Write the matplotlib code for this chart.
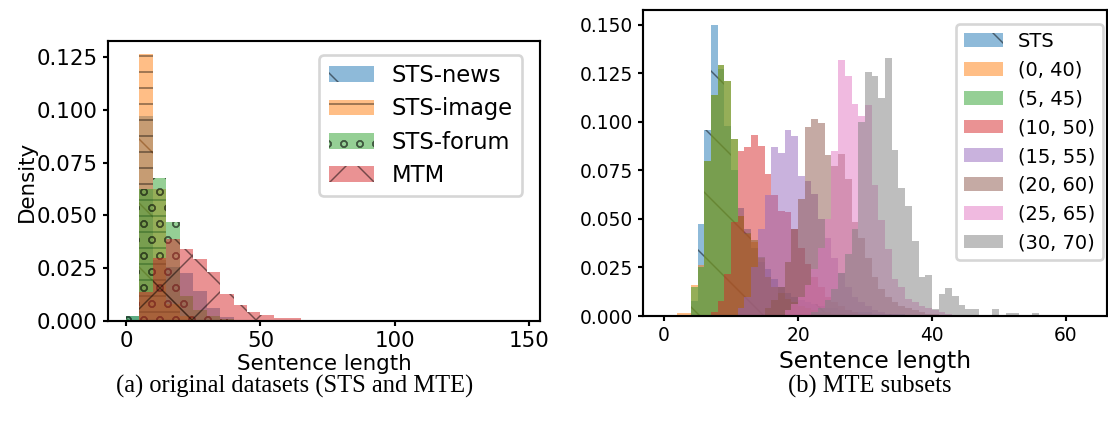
import numpy as np
import matplotlib
matplotlib.use("Agg")
import matplotlib.pyplot as plt

plt.rcParams['hatch.linewidth'] = 0.55
plt.rcParams['hatch.color'] = '#00000080'

# ---------------- data: (a) original datasets, bin width 5 starting at 0 ----------------
left_bin_start = 0
left_bin_width = 5
left_labels = ["STS-news", "STS-image", "STS-forum", "MTM"]
left_hatches = ["\\", "--", "oo", "x"]
sts_news = [0.0025, 0.097, 0.029, 0.0256, 0.0228, 0.0141, 0.0062, 0.002, 0.0007, 0.0003]
sts_image = [0.0, 0.1264, 0.0625, 0.008, 0.0025, 0.0006]
sts_forum = [0.0025, 0.0625, 0.068, 0.0468, 0.012, 0.005, 0.0022, 0.0008, 0.0003]
mtm = [0.0, 0.0138, 0.030, 0.039, 0.034, 0.0296, 0.0231, 0.0127, 0.0074, 0.0041,
       0.0027, 0.0013, 0.0013, 0.0006, 0.0004, 0.0003, 0.0002, 0.0002, 0.0001, 0.0001,
       0.0001, 0.0001, 0.0001, 0.0001, 0.0001, 0.0001, 0.0001, 0.0001, 0.0001]
left_xticks = [0, 50, 100, 150]
left_yticks = [0.000, 0.025, 0.050, 0.075, 0.100, 0.125]

# ---------------- data: (b) MTE subsets, bin width 1 starting at 0 ----------------
right_bin_start = 0
right_bin_width = 1
right_labels = ["STS", "(0, 40)", "(5, 45)", "(10, 50)", "(15, 55)", "(20, 60)", "(25, 65)", "(30, 70)"]
sts = [0, 0, 0, 0, 0.0077, 0.0474, 0.0959, 0.150, 0.127, 0.098,
       0.075, 0.0557, 0.045, 0.035, 0.028, 0.024, 0.019, 0.015, 0.012, 0.010,
       0.008, 0.007, 0.006, 0.005, 0.004, 0.004, 0.003, 0.003, 0.002, 0.002,
       0.002, 0.001, 0.001, 0.001, 0.001, 0.001]
sub_0_40 = [0, 0, 0.0014, 0.0014, 0.016, 0.0261, 0.080, 0.114, 0.129, 0.121,
            0.0912, 0.0515, 0.042, 0.038, 0.030, 0.020, 0.015, 0.012, 0.009, 0.007,
            0.005, 0.004, 0.003, 0.002, 0.002, 0.001, 0.001]
sub_5_45 = [0, 0, 0, 0, 0.0147, 0.0254, 0.080, 0.114, 0.129, 0.121,
            0.0912, 0.0515, 0.0426, 0.039, 0.0306, 0.020, 0.015, 0.012, 0.009, 0.007,
            0.005, 0.004, 0.003, 0.002, 0.002, 0.001, 0.001]
sub_10_50 = [0, 0, 0, 0, 0, 0, 0, 0.002, 0.0077, 0.0216,
             0.0486, 0.085, 0.0868, 0.0933, 0.0876, 0.0732, 0.0624, 0.054, 0.0533, 0.045,
             0.035, 0.027, 0.020, 0.015, 0.010, 0.007, 0.005, 0.003, 0.002, 0.001, 0.001]
sub_15_55 = [0, 0, 0, 0, 0, 0, 0, 0, 0, 0,
             0, 0.004, 0.010, 0.025, 0.045, 0.0624, 0.0868, 0.0838, 0.0959, 0.0924,
             0.0722, 0.0696, 0.063, 0.050, 0.040, 0.030, 0.022, 0.015, 0.010, 0.007,
             0.005, 0.003, 0.002, 0.001, 0.001]
sub_20_60 = [0, 0, 0, 0, 0, 0, 0, 0, 0, 0,
             0, 0, 0, 0, 0, 0.004, 0.008, 0.015, 0.028, 0.045,
             0.060, 0.0973, 0.1015, 0.0993, 0.083, 0.077, 0.0835, 0.0706, 0.0486, 0.040,
             0.030, 0.020, 0.014, 0.010, 0.007, 0.005, 0.004, 0.003, 0.002, 0.001, 0.001]
sub_25_65 = [0, 0, 0, 0, 0, 0, 0, 0, 0, 0,
             0, 0, 0, 0, 0, 0, 0, 0, 0.003, 0.006,
             0.010, 0.016, 0.024, 0.035, 0.050, 0.085, 0.132, 0.1237, 0.109, 0.103,
             0.1088, 0.0675, 0.0495, 0.0344, 0.019, 0.015, 0.009, 0.007, 0.005, 0.004,
             0.003, 0.002, 0.001]
sub_30_70 = [0, 0, 0, 0, 0, 0, 0, 0, 0, 0,
             0, 0, 0, 0, 0, 0, 0, 0, 0, 0,
             0, 0, 0.002, 0.004, 0.008, 0.014, 0.022, 0.032, 0.045, 0.100,
             0.1258, 0.1234, 0.112, 0.1328, 0.0856, 0.066, 0.0567, 0.0387, 0.0203, 0.0211,
             0.0036, 0.0113, 0.0143, 0.0103, 0.0057, 0.0034, 0.0034, 0.0005, 0.0005, 0.0034,
             0.0005, 0.0014, 0.0014, 0.0005, 0.0005, 0.0014, 0.0005, 0, 0, 0,
             0, 0, 0.0005]
right_xticks = [0, 20, 40, 60]
right_yticks = [0.000, 0.025, 0.050, 0.075, 0.100, 0.125, 0.150]

colors = plt.rcParams['axes.prop_cycle'].by_key()['color']


def draw_hist(ax, heights, start, width, **kw):
    heights = np.asarray(heights, dtype=float)
    edges = start + width * np.arange(len(heights) + 1)
    centers = edges[:-1] + width / 2.0
    return ax.hist(centers, bins=edges, weights=heights, alpha=0.5, **kw)


W, H = 1108, 430
fig = plt.figure(figsize=(W / 192, H / 192), dpi=192)

# ---------------- left panel ----------------
axL = fig.add_axes([108 / W, (H - 321) / H, 432 / W, 280 / H])
for vals, lab, hat, col in zip([sts_news, sts_image, sts_forum, mtm], left_labels, left_hatches, colors):
    draw_hist(axL, vals, left_bin_start, left_bin_width, label=lab, hatch=hat, color=col)
axL.set_xlim(-6.7, 154.0)
axL.set_ylim(0, 0.1327)
axL.set_xticks(left_xticks)
axL.set_yticks(left_yticks)
axL.set_yticklabels([f"{v:.3f}" for v in left_yticks])
axL.tick_params(labelsize=8, length=1.8, width=0.8, pad=2)
axL.set_xlabel("Sentence length", fontsize=8, labelpad=1.0)
axL.set_ylabel("Density", fontsize=8, labelpad=0)
axL.legend(loc="upper right", bbox_to_anchor=(0.985, 0.99), fontsize=8.5, labelspacing=0.45)

# ---------------- right panel ----------------
axR = fig.add_axes([643 / W, (H - 316) / H, 464 / W, 306 / H])
right_series = [sts, sub_0_40, sub_5_45, sub_10_50, sub_15_55, sub_20_60, sub_25_65, sub_30_70]
for i, (vals, lab) in enumerate(zip(right_series, right_labels)):
    kw = dict(hatch="\\") if i == 0 else {}
    draw_hist(axR, vals, right_bin_start, right_bin_width, label=lab, color=colors[i], **kw)
axR.set_xlim(-3.15, 66.15)
axR.set_ylim(0, 0.1575)
axR.set_xticks(right_xticks)
axR.set_yticks(right_yticks)
axR.set_yticklabels([f"{v:.3f}" for v in right_yticks])
axR.tick_params(labelsize=7, length=1.8, width=0.8, pad=2)
axR.set_xlabel("Sentence length", fontsize=8.8, labelpad=2.0)
axR.legend(loc="upper right", bbox_to_anchor=(1.013, 0.985), fontsize=7.3)

for ax in (axL, axR):
    for sp in ax.spines.values():
        sp.set_linewidth(0.8)

fig.text(295 / W, (H - 393) / H, "(a) original datasets (STS and MTE)", ha="center", va="baseline",
         fontsize=9.2, family="Liberation Serif")
fig.text(870 / W, (H - 393) / H, "(b) MTE subsets", ha="center", va="baseline",
         fontsize=9.2, family="Liberation Serif")

fig.savefig("out.png", dpi=192)
